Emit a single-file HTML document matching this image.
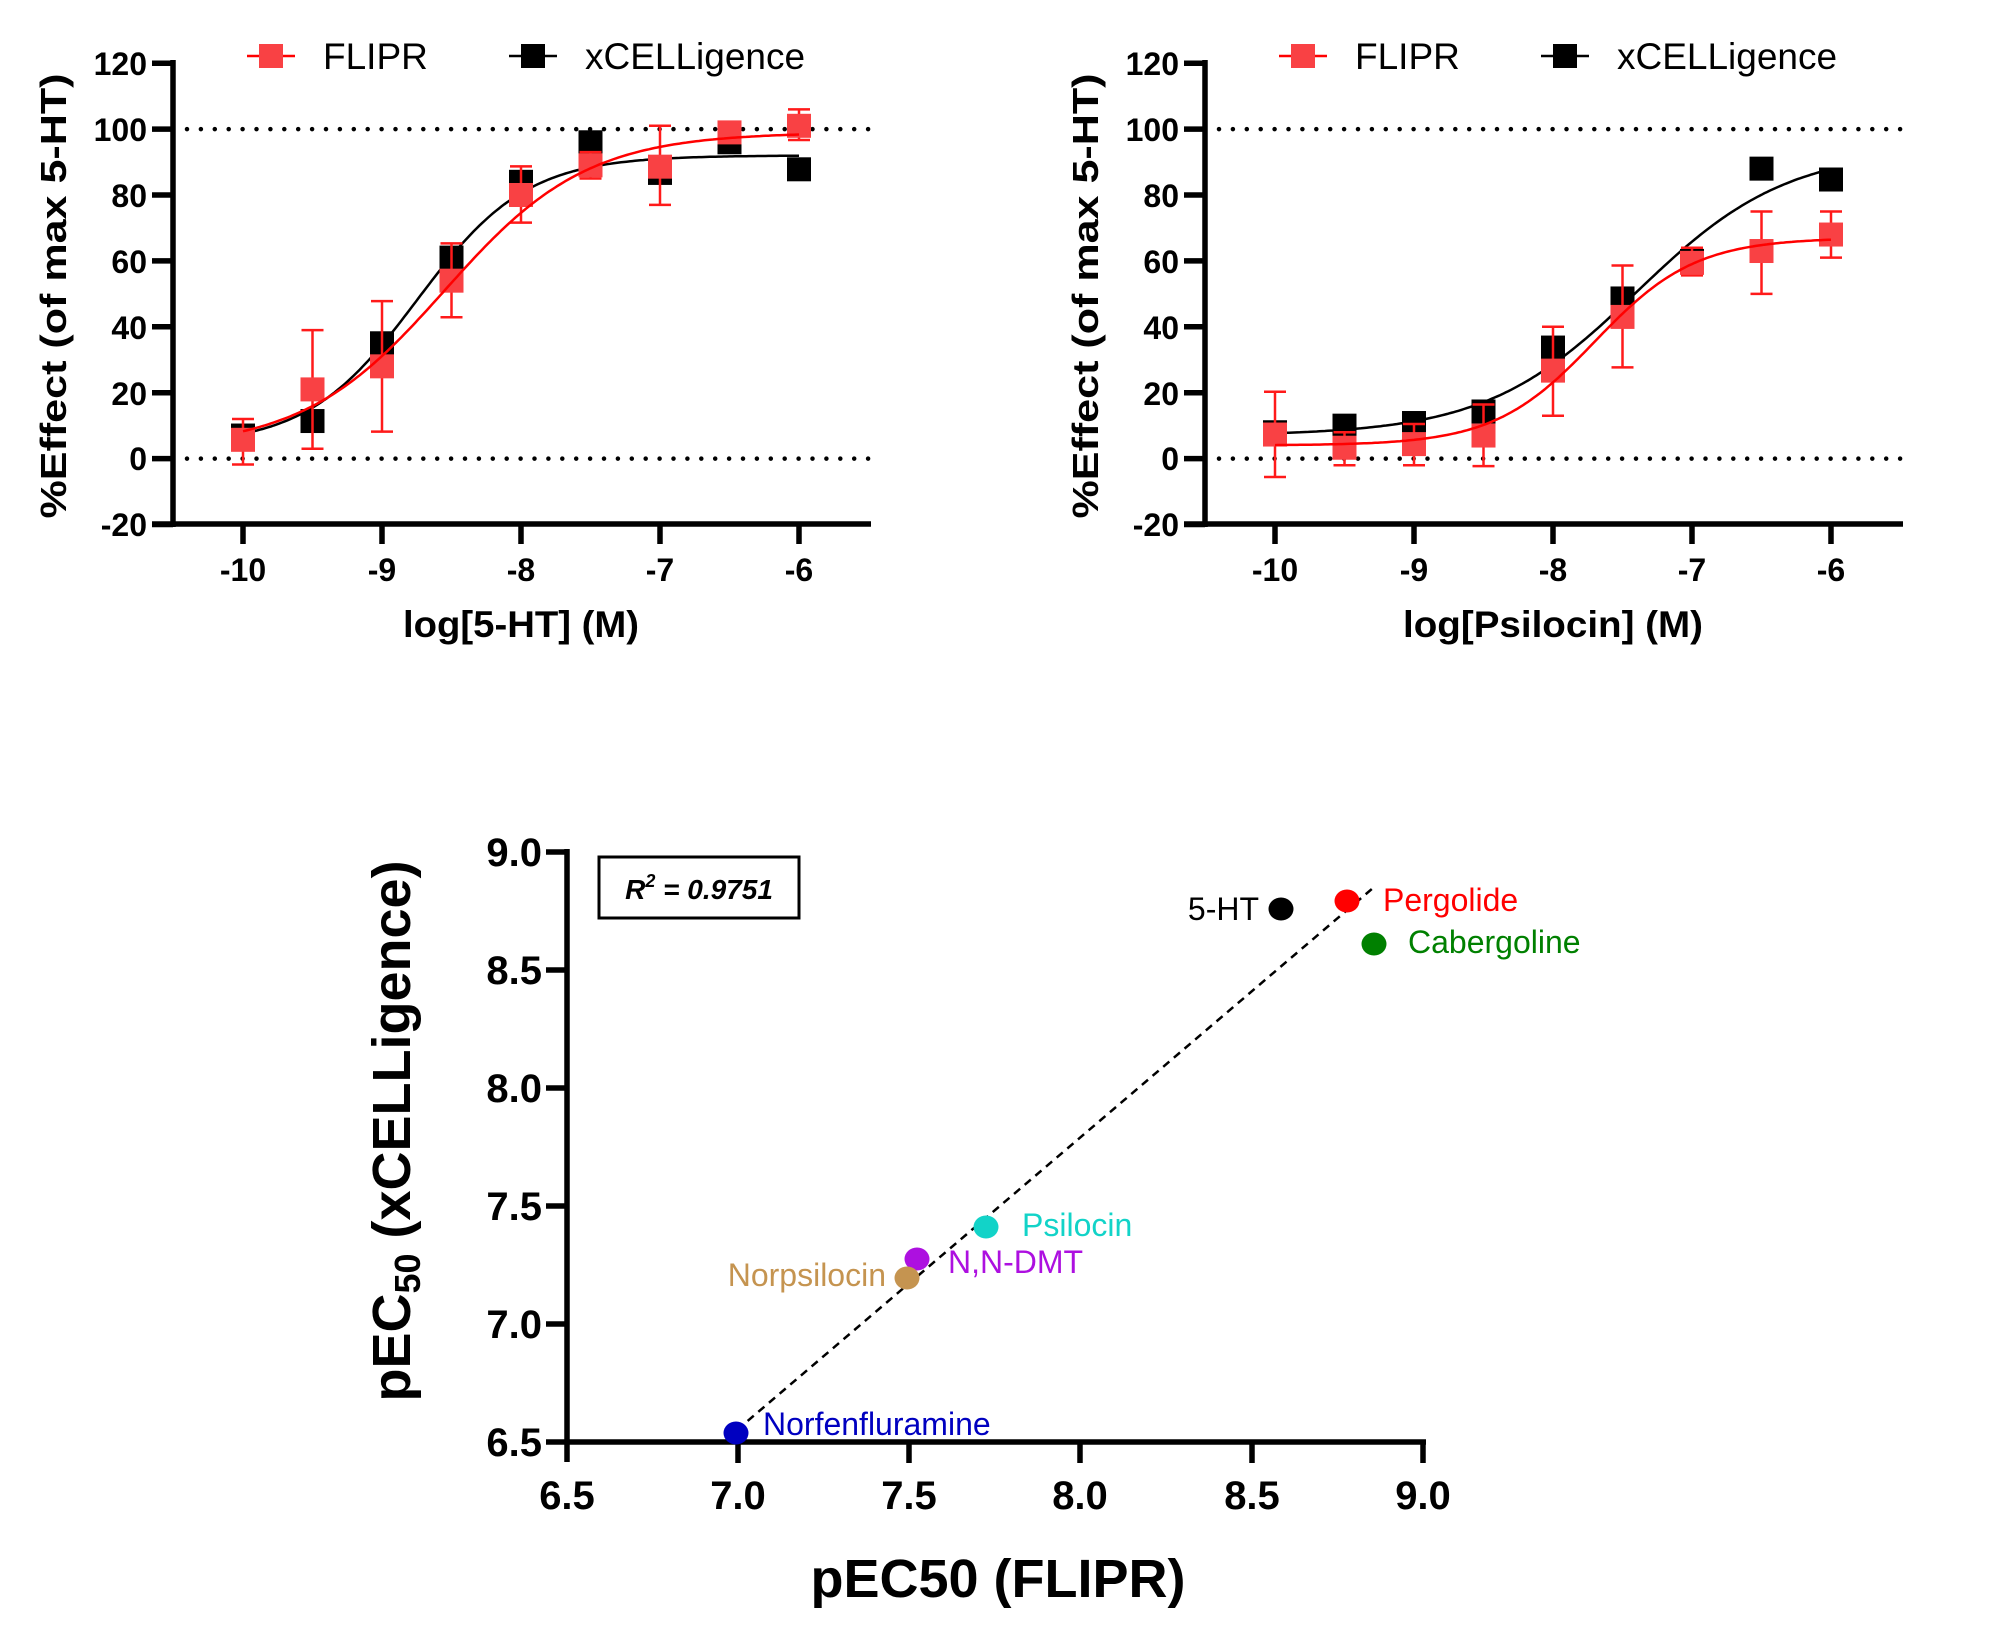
<!DOCTYPE html>
<html><head><meta charset="utf-8"><style>
html,body{margin:0;padding:0;background:#fff;}
svg{display:block;}
text{font-family:"Liberation Sans",Arial,sans-serif;}
</style></head><body>
<svg id="s" width="2004" height="1645" viewBox="0 0 2004 1645" xmlns="http://www.w3.org/2000/svg">
<rect width="2004" height="1645" fill="#fff"/>
<g id="p1"></g>
<g id="p2" transform="translate(1032,0)"></g>

<g font-weight="bold" font-size="32" text-anchor="end" fill="#000">
<text x="147" y="75">120</text><text x="147" y="141">100</text><text x="147" y="207">80</text>
<text x="147" y="273">60</text><text x="147" y="339">40</text><text x="147" y="405">20</text>
<text x="147" y="470">0</text><text x="147" y="536">-20</text>
</g>
<g font-weight="bold" font-size="32" text-anchor="middle" fill="#000">
<text x="243" y="581">-10</text><text x="382" y="581">-9</text><text x="521" y="581">-8</text><text x="660" y="581">-7</text><text x="799" y="581">-6</text>
</g>
<text x="521" y="637" font-weight="bold" font-size="37" text-anchor="middle" textLength="236" lengthAdjust="spacingAndGlyphs">log[5-HT] (M)</text>
<text transform="translate(66,296) rotate(-90)" font-weight="bold" font-size="36" text-anchor="middle" textLength="445" lengthAdjust="spacingAndGlyphs">%Effect (of max 5-HT)</text>
<text x="323" y="69" font-size="37">FLIPR</text>
<text x="585" y="69" font-size="37">xCELLigence</text>

<g transform="translate(1032,0)">
<g font-weight="bold" font-size="32" text-anchor="end" fill="#000">
<text x="147" y="75">120</text><text x="147" y="141">100</text><text x="147" y="207">80</text>
<text x="147" y="273">60</text><text x="147" y="339">40</text><text x="147" y="405">20</text>
<text x="147" y="470">0</text><text x="147" y="536">-20</text>
</g>
<g font-weight="bold" font-size="32" text-anchor="middle" fill="#000">
<text x="243" y="581">-10</text><text x="382" y="581">-9</text><text x="521" y="581">-8</text><text x="660" y="581">-7</text><text x="799" y="581">-6</text>
</g>
<text x="521" y="637" font-weight="bold" font-size="37" text-anchor="middle" textLength="300" lengthAdjust="spacingAndGlyphs">log[Psilocin] (M)</text>
<text transform="translate(66,296) rotate(-90)" font-weight="bold" font-size="36" text-anchor="middle" textLength="445" lengthAdjust="spacingAndGlyphs">%Effect (of max 5-HT)</text>
<text x="323" y="69" font-size="37">FLIPR</text>
<text x="585" y="69" font-size="37">xCELLigence</text>
</g>

<g stroke="#000" stroke-width="5.5" fill="none">
<line x1="567" y1="849" x2="567" y2="1462"/>
<line x1="546" y1="1442" x2="1426" y2="1442"/>
<line x1="546" y1="852" x2="567" y2="852"/>
<line x1="546" y1="970" x2="567" y2="970"/>
<line x1="546" y1="1088" x2="567" y2="1088"/>
<line x1="546" y1="1206" x2="567" y2="1206"/>
<line x1="546" y1="1324" x2="567" y2="1324"/>
<line x1="738" y1="1442" x2="738" y2="1463"/>
<line x1="909" y1="1442" x2="909" y2="1463"/>
<line x1="1080" y1="1442" x2="1080" y2="1463"/>
<line x1="1252" y1="1442" x2="1252" y2="1463"/>
<line x1="1423" y1="1442" x2="1423" y2="1463"/>
</g>
<g font-weight="bold" font-size="40" text-anchor="end">
<text x="542" y="866">9.0</text><text x="542" y="984">8.5</text><text x="542" y="1102">8.0</text>
<text x="542" y="1220">7.5</text><text x="542" y="1338">7.0</text><text x="542" y="1456">6.5</text>
</g>
<g font-weight="bold" font-size="40" text-anchor="middle">
<text x="567" y="1509">6.5</text><text x="738" y="1509">7.0</text><text x="909" y="1509">7.5</text>
<text x="1080" y="1509">8.0</text><text x="1252" y="1509">8.5</text><text x="1423" y="1509">9.0</text>
</g>
<text x="998" y="1597" font-weight="bold" font-size="54" text-anchor="middle">pEC50 (FLIPR)</text>
<text transform="translate(410,1131) rotate(-90)" font-weight="bold" font-size="54" text-anchor="middle">pEC<tspan font-size="36" dy="10">50</tspan><tspan dy="-10"> (xCELLigence)</tspan></text>
<rect x="599" y="857" width="200" height="61" fill="none" stroke="#000" stroke-width="3"/>
<text x="699" y="899" font-weight="bold" font-style="italic" font-size="28" text-anchor="middle">R<tspan font-size="18" dy="-12">2</tspan><tspan dy="12"> = 0.9751</tspan></text>
<line x1="737" y1="1430" x2="1373" y2="888" stroke="#000" stroke-width="2.5" stroke-dasharray="8 6"/>
<g>
<ellipse cx="1281" cy="909" rx="12.5" ry="11.5" fill="#000"/>
<ellipse cx="1347" cy="901" rx="12.5" ry="11.5" fill="#ff0000"/>
<ellipse cx="1374" cy="944" rx="12.5" ry="11.5" fill="#008000"/>
<ellipse cx="986" cy="1227" rx="12.5" ry="11.5" fill="#12d3c8"/>
<ellipse cx="917" cy="1259" rx="12.5" ry="11.5" fill="#ad10e0"/>
<ellipse cx="907" cy="1278" rx="12.5" ry="11.5" fill="#c59450"/>
<ellipse cx="736" cy="1433" rx="12.5" ry="11.5" fill="#0000c0"/>
</g>
<g font-size="32">
<text x="1259" y="920" text-anchor="end" fill="#000">5-HT</text>
<text x="1383" y="911" fill="#ff0000">Pergolide</text>
<text x="1408" y="953" fill="#008000">Cabergoline</text>
<text x="1022" y="1236" fill="#12d3c8">Psilocin</text>
<text x="948" y="1273" fill="#ad10e0">N,N-DMT</text>
<text x="886" y="1286" text-anchor="end" fill="#c59450">Norpsilocin</text>
<text x="763" y="1435" fill="#0000c0">Norfenfluramine</text>
</g>
</svg>
<script>
(function(){
var NS="http://www.w3.org/2000/svg";
function el(p,t,a){var e=document.createElementNS(NS,t);for(var k in a)e.setAttribute(k,a[k]);p.appendChild(e);return e;}
function X(v){return 243+(v+10)*139;}
function Y(v){return 458.6-v*3.295;}
function build(g,red,blk,rf,bf){
  el(g,"line",{x1:173,y1:60,x2:173,y2:527,stroke:"#000","stroke-width":5.5});
  el(g,"line",{x1:152,y1:524,x2:871,y2:524,stroke:"#000","stroke-width":5.5});
  for(var v=-20;v<=120;v+=20){el(g,"line",{x1:152,y1:Y(v),x2:173,y2:Y(v),stroke:"#000","stroke-width":5.5});}
  for(var i=-10;i<=-6;i++){el(g,"line",{x1:X(i),y1:524,x2:X(i),y2:544,stroke:"#000","stroke-width":5.5});}
  [0,100].forEach(function(v){el(g,"line",{x1:187,y1:Y(v),x2:872,y2:Y(v),stroke:"#000","stroke-width":4.5,"stroke-dasharray":"0 13.9","stroke-linecap":"round"});});
  el(g,"line",{x1:247,y1:56,x2:295,y2:56,stroke:"#ff0000","stroke-width":2.5});
  el(g,"rect",{x:259,y:44,width:24,height:24,fill:"#f94144"});
  el(g,"line",{x1:509,y1:56,x2:557,y2:56,stroke:"#000","stroke-width":2.5});
  el(g,"rect",{x:521,y:44,width:24,height:24,fill:"#000"});
  function curve(f,col){var d="";for(var x=-10;x<=-6.0001+0.02;x+=0.02){var xx=Math.min(x,-6);d+=(d?"L":"M")+X(xx).toFixed(1)+","+Y(f(xx)).toFixed(1);}el(g,"path",{d:d,fill:"none",stroke:col,"stroke-width":2.5});}
  var xs=[-10,-9.5,-9,-8.5,-8,-7.5,-7,-6.5,-6];
  blk.forEach(function(v,i){el(g,"rect",{x:X(xs[i])-12,y:Y(v)-12,width:24,height:24,fill:"#000"});});
  curve(bf,"#000");
  red.forEach(function(r,i){var x=X(xs[i]);
    el(g,"line",{x1:x,y1:Y(r[1]),x2:x,y2:Y(r[2]),stroke:"#ff1a1a","stroke-width":2.5});
    el(g,"line",{x1:x-11,y1:Y(r[1]),x2:x+11,y2:Y(r[1]),stroke:"#ff1a1a","stroke-width":2.5});
    el(g,"line",{x1:x-11,y1:Y(r[2]),x2:x+11,y2:Y(r[2]),stroke:"#ff1a1a","stroke-width":2.5});
  });
  red.forEach(function(r,i){el(g,"rect",{x:X(xs[i])-12,y:Y(r[0])-12,width:24,height:24,fill:"#f94144"});});
  curve(rf,"#ff0000");
}
function hill(b,t,ec,h){return function(x){return b+(t-b)/(1+Math.pow(10,h*(ec-x)));};}
build(document.getElementById("p1"),
 [[5.7,12,-1.8],[21,39,3],[28,47.8,8.2],[54,65.3,42.9],[80,88.7,71.6],[89,93,85],[88.6,101,77],[99,100.5,96.7],[101,106,96.7]],
 [7,11.4,35,61,84,96,86.7,96,87.8],
 hill(3,99,-8.55,0.85), hill(4,92,-8.75,1.1));
build(document.getElementById("p2"),
 [[7.3,20.3,-5.6],[3.3,8,-2],[4.4,10.5,-2],[7,16.4,-2.3],[26.7,40,13],[43,58.6,27.7],[59.4,64,55.6],[63,75,50],[68,75,61]],
 [8,10,10.8,14.3,33.7,48.6,60,88,84.7],
 hill(4,67,-7.7,1.2), hill(7,94,-7.4,0.8));
})();
</script>
</body></html>
